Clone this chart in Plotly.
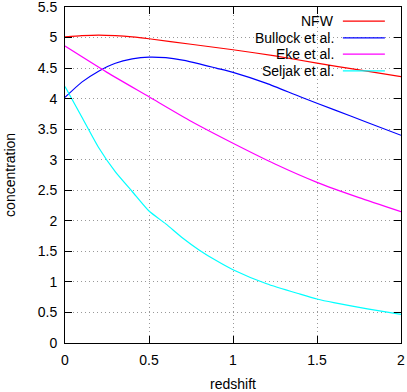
import plotly.graph_objects as go

# values
z_nfw = [0, 0.1, 0.2, 0.3, 0.4, 0.5, 0.75, 1.0, 1.25, 1.5, 1.75, 2.0]
c_nfw = [5.01, 5.03, 5.04, 5.03, 5.01, 4.98, 4.89, 4.80, 4.70, 4.58, 4.47, 4.36]

z_bullock = [0, 0.1, 0.2, 0.3, 0.4, 0.5, 0.6, 0.7, 0.8, 0.9, 1.0, 1.2, 1.4, 1.6, 1.8, 2.0]
c_bullock = [4.02, 4.27, 4.45, 4.58, 4.65, 4.68, 4.67, 4.63, 4.57, 4.50, 4.43, 4.25, 4.03, 3.82, 3.61, 3.40]

z_eke = [0, 0.25, 0.5, 0.75, 1.0, 1.25, 1.5, 1.75, 2.0]
c_eke = [4.86, 4.43, 4.03, 3.63, 3.27, 2.93, 2.63, 2.38, 2.15]

z_seljak = [0, 0.1, 0.2, 0.3, 0.4, 0.5, 0.6, 0.7, 0.8, 0.9, 1.0, 1.2, 1.4, 1.5, 1.6, 1.8, 2.0]
c_seljak = [4.2, 3.7, 3.2, 2.8, 2.48, 2.16, 1.95, 1.72, 1.52, 1.35, 1.2, 0.97, 0.8, 0.72, 0.66, 0.56, 0.47]

x_ticks = [0, 0.5, 1, 1.5, 2]
x_labels = ["0", "0.5", "1", "1.5", "2"]
y_ticks = [0, 0.5, 1, 1.5, 2, 2.5, 3, 3.5, 4, 4.5, 5, 5.5]
y_labels = ["0", "0.5", "1", "1.5", "2", "2.5", "3", "3.5", "4", "4.5", "5", "5.5"]

series = [
    ("NFW", z_nfw, c_nfw, "#ff0000"),
    ("Bullock et al.", z_bullock, c_bullock, "#0000ff"),
    ("Eke et al.", z_eke, c_eke, "#ff00ff"),
    ("Seljak et al.", z_seljak, c_seljak, "#00ffff"),
]

fig = go.Figure()
legend_y = [0.958, 0.908, 0.860, 0.810]
for (name, xs, ys, col), ly in zip(series, legend_y):
    fig.add_trace(go.Scatter(x=xs, y=ys, mode="lines", name=name,
                             line=dict(color=col, width=1.2, shape="spline", smoothing=0.6),
                             showlegend=False, cliponaxis=False))
    # gnuplot style key: text right aligned, sample line on the right
    fig.add_annotation(x=0.806, y=ly, xref="paper", yref="paper", text=name,
                       showarrow=False, xanchor="right", yanchor="middle",
                       font=dict(size=14, color="black"))
    fig.add_shape(type="line", xref="paper", yref="paper",
                  x0=0.827, x1=0.952, y0=ly, y1=ly,
                  line=dict(color=col, width=1.2))

axis_common = dict(showline=True, linecolor="black", linewidth=1,
                   mirror="ticks", ticks="inside", ticklen=7, tickcolor="black",
                   showgrid=True, gridcolor="#999999", griddash="1px,3px", gridwidth=1,
                   zeroline=False, tickfont=dict(size=14, color="black"),
                   automargin=False, ticklabeloverflow="allow")

fig.update_xaxes(range=[0, 2], tickmode="array", tickvals=x_ticks, ticktext=x_labels,
                 ticklabelstandoff=4, **axis_common)
fig.update_yaxes(range=[0, 5.5], tickmode="array", tickvals=y_ticks, ticktext=y_labels,
                 ticklabelstandoff=4, **axis_common)

# axis titles placed as annotations (gnuplot positions)
fig.add_annotation(x=0.5, y=-0.122, xref="paper", yref="paper", text="redshift",
                   showarrow=False, xanchor="center", yanchor="middle",
                   font=dict(size=14, color="black"))
fig.add_annotation(x=-0.164, y=0.5, xref="paper", yref="paper", text="concentration",
                   showarrow=False, xanchor="center", yanchor="middle", textangle=-90,
                   font=dict(size=14, color="black"))

fig.update_layout(width=407, height=392, plot_bgcolor="white", paper_bgcolor="white",
                  margin=dict(l=65, r=6, t=7, b=49),
                  font=dict(family="Liberation Sans, Arial, sans-serif", color="black"))

# drop the default 8px page margin so the figure sits at the window corner
fig.write_html("out.html", config={"displayModeBar": False},
               post_script="document.body.style.margin='0';")
